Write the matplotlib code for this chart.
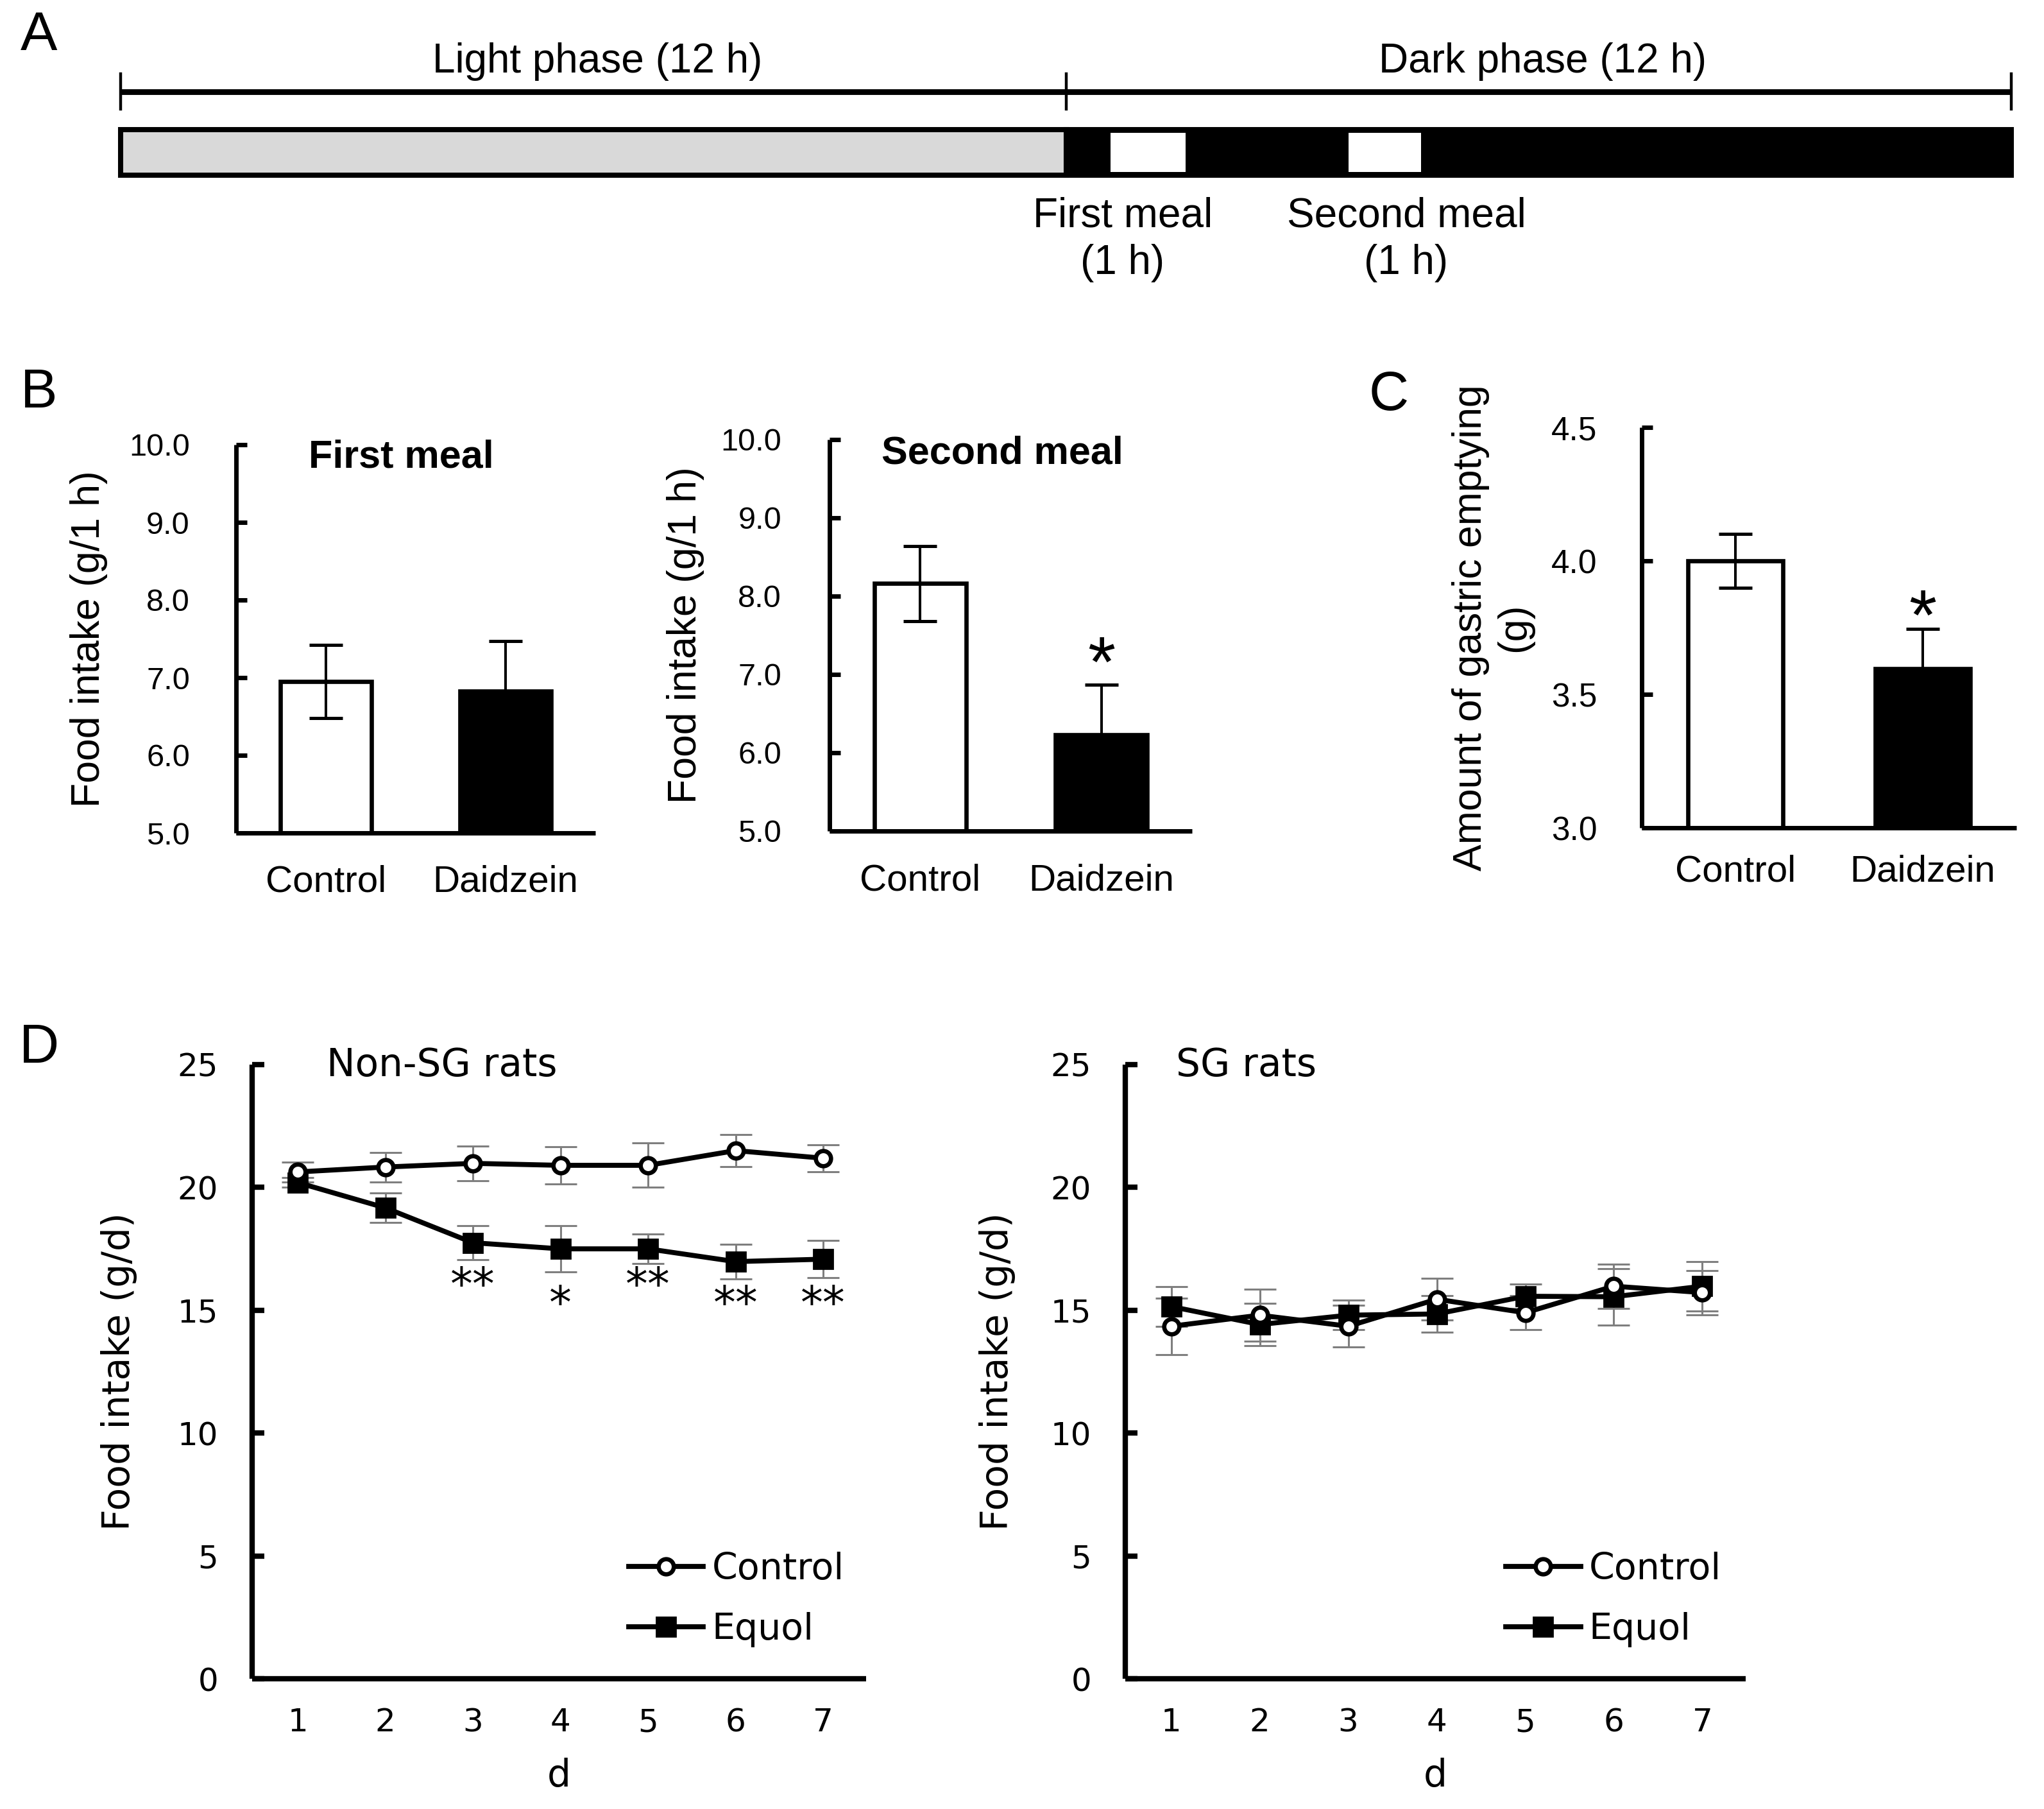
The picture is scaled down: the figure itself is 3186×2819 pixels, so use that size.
import matplotlib
matplotlib.use("Agg")
import matplotlib.pyplot as plt
from matplotlib.patches import Rectangle

# ---- panel A: light / dark schedule (hours) ----
phase_labels = ["Light phase (12 h)", "Dark phase (12 h)"]
phase_hours = [12, 12]
phase_colors = ["#d9d9d9", "black"]
meal_labels = ["First meal\n(1 h)", "Second meal\n(1 h)"]
meal_start = [12.57, 15.59]
meal_length = [0.95, 0.92]
meal_label_x = [12.72, 16.32]

# ---- panel B / C ----
groups = ["Control", "Daidzein"]
first_meal = [6.95, 6.83]
first_meal_err = [0.47, 0.64]
second_meal = [8.16, 6.23]
second_meal_err = [0.48, 0.64]
gastric = [4.00, 3.595]
gastric_err = [0.10, 0.15]

# ---- panel D ----
days = [1, 2, 3, 4, 5, 6, 7]
nonsg_ctrl = [20.63, 20.83, 20.98, 20.9, 20.9, 21.5, 21.19]
nonsg_ctrl_err = [0.4, 0.6, 0.7, 0.75, 0.9, 0.65, 0.55]
nonsg_equol = [20.2, 19.17, 17.75, 17.5, 17.5, 16.98, 17.08]
nonsg_equol_err = [0.2, 0.6, 0.7, 0.95, 0.6, 0.7, 0.75]
nonsg_star_days = [3, 4, 5, 6, 7]
nonsg_star_text = ["**", "*", "**", "**", "**"]
nonsg_star_y = [15.95, 15.2, 15.95, 15.2, 15.2]
sg_ctrl = [14.35, 14.8, 14.35, 15.45, 14.9, 15.98, 15.72]
sg_ctrl_err = [1.15, 1.05, 0.85, 0.85, 0.7, 0.9, 0.9]
sg_equol = [15.15, 14.42, 14.8, 14.85, 15.57, 15.55, 15.98]
sg_equol_err = [0.8, 0.85, 0.6, 0.75, 0.5, 1.15, 1.0]

plt.rcParams["font.family"] = ["Liberation Sans", "DejaVu Sans"]

W, H = 3186.0, 2819.0   # layout measured in output pixels
fig = plt.figure(figsize=(W / 200, H / 200), dpi=200)


def box(left, top, right, bottom):
    return [left / W, 1 - bottom / H, (right - left) / W, (bottom - top) / H]


# panel letters
for letter, x, y in [("A", 61, 56), ("B", 61, 613), ("C", 2165, 617), ("D", 61, 1634)]:
    fig.text(x / W, 1 - y / H, letter, fontsize=31, ha="center", va="center")

# ---------------- panel A ----------------
axa = fig.add_axes(box(188, 0, 3135, 480))
axa.set_xlim(0, sum(phase_hours))
axa.set_ylim(480, 0)
axa.axis("off")
total = sum(phase_hours)
axa.plot([0, total], [143, 143], color="black", lw=3.2, solid_capstyle="butt", clip_on=False)
edges = [0]
for h in phase_hours:
    edges.append(edges[-1] + h)
for e in edges:
    axa.plot([e, e], [115, 170], color="black", lw=1.6, clip_on=False)
start = 0
for lab, h, c in zip(phase_labels, phase_hours, phase_colors):
    axa.text(start + h / 2 + 0.05, 113, lab, fontsize=23, ha="center", va="baseline")
    axa.add_patch(Rectangle((start, 202), h, 71, facecolor=c, edgecolor="black",
                            lw=2.9, clip_on=False))
    start += h
for lab, s, l, tx in zip(meal_labels, meal_start, meal_length, meal_label_x):
    axa.add_patch(Rectangle((s, 207), l, 61, facecolor="white", edgecolor="none",
                            clip_on=False, zorder=3))
    axa.text(tx, 373, lab, fontsize=23, ha="center", va="center", linespacing=1.28)


# ---------------- panels B and C ----------------
def bar_panel(rect, values, errs, ylim, ticks, title, title_pos, ylabel, label_x,
              tick_size, tick_pad, xpad, star_off=None):
    ax = fig.add_axes(rect)
    x = list(range(len(values)))
    ax.bar(x, values, width=0.505, color=["white", "black"], edgecolor="black",
           linewidth=2.4, zorder=2)
    ax.errorbar(x, values, yerr=[[errs[0], 0], errs], fmt="none", ecolor="black",
                elinewidth=1.45, capsize=9.5, capthick=1.8, zorder=3)
    ax.set_ylim(*ylim)
    ax.set_xlim(-0.5, 1.5)
    ax.set_yticks(ticks)
    ax.set_yticklabels([f"{t:.1f}" for t in ticks])
    ax.set_xticks(x)
    ax.set_xticklabels(groups)
    ax.tick_params(axis="y", direction="in", length=6, width=2.5, labelsize=tick_size,
                   pad=tick_pad)
    ax.tick_params(axis="x", length=0, labelsize=21, pad=xpad)
    for s in ["top", "right"]:
        ax.spines[s].set_visible(False)
    for s in ["left", "bottom"]:
        ax.spines[s].set_linewidth(2.5)
        ax.spines[s].set_capstyle("butt")
    ax.set_ylabel(ylabel, fontsize=22.5, ha="center")
    ax.yaxis.set_label_coords(label_x, 0.5)
    if title:
        ax.text(title_pos[0], title_pos[1], title, transform=ax.transAxes, fontsize=22,
                fontweight="bold", ha="center", va="baseline")
    if star_off is not None:
        ax.annotate("*", (1, values[1] + errs[1]), xytext=(0, star_off),
                    textcoords="offset points", ha="center", va="baseline", fontsize=40)
    return ax


bar_panel(box(368, 693, 928, 1298), first_meal, first_meal_err, (5, 10),
          [5, 6, 7, 8, 9, 10], "First meal", (0.459, 0.942),
          "Food intake (g/1 h)", -0.357, 17.5, 26, 18)
bar_panel(box(1293, 685, 1858, 1295), second_meal, second_meal_err, (5, 10),
          [5, 6, 7, 8, 9, 10], "Second meal", (0.476, 0.938),
          "Food intake (g/1 h)", -0.345, 17.5, 27, 18, star_off=-1)
bar_panel(box(2559, 666, 3143, 1290), gastric, gastric_err, (3, 4.5),
          [3.0, 3.5, 4.0, 4.5], None, None,
          "Amount of gastric emptying\n(g)", -0.289, 18.5, 25, 15, star_off=-6)


# ---------------- panel D ----------------
def line_panel(rect, ctrl, ctrl_err, equol, equol_err, title, title_x, label_x,
               stars=None):
    ax = fig.add_axes(rect)
    ax.errorbar(days, ctrl, yerr=ctrl_err, fmt="none", ecolor="#7f7f7f",
                elinewidth=1.1, capsize=9, capthick=1.1, zorder=2)
    ax.errorbar(days, equol, yerr=equol_err, fmt="none", ecolor="#7f7f7f",
                elinewidth=1.1, capsize=9, capthick=1.1, zorder=2)
    ax.plot(days, ctrl, color="black", lw=2.8, marker="o", ms=8.5, mfc="white",
            mec="black", mew=2.4, label="Control", zorder=4)
    ax.plot(days, equol, color="black", lw=2.8, marker="s", ms=11, mfc="black",
            mec="black", mew=1, label="Equol", zorder=3)
    ax.set_xlim(0.48, 7.49)
    ax.set_ylim(0, 25)
    ax.set_yticks([0, 5, 10, 15, 20, 25])
    ax.set_xticks(days)
    ax.tick_params(axis="y", direction="in", length=7, width=3, labelsize=18, pad=19)
    ax.tick_params(axis="x", length=0, labelsize=18, pad=16)
    for lab in ax.get_xticklabels() + ax.get_yticklabels():
        lab.set_fontfamily("DejaVu Sans")
    for s in ["top", "right"]:
        ax.spines[s].set_visible(False)
    for s in ["left", "bottom"]:
        ax.spines[s].set_linewidth(3)
        ax.spines[s].set_capstyle("butt")
    ax.set_ylabel("Food intake (g/d)", fontsize=21, family="DejaVu Sans")
    ax.yaxis.set_label_coords(label_x, 0.5)
    ax.set_xlabel("d", fontsize=21, family="DejaVu Sans", labelpad=11)
    ax.text(title_x, 0.981, title, transform=ax.transAxes, fontsize=21.5,
            family="DejaVu Sans", ha="left", va="baseline")
    ax.legend(loc="center left", bbox_to_anchor=(0.613, 0.129), frameon=False,
              prop={"family": "DejaVu Sans", "size": 20.5}, handlelength=2.05,
              handletextpad=0.23, labelspacing=0.68, borderpad=0, borderaxespad=0)
    if stars is not None:
        for d, t, y in zip(*stars):
            ax.text(d, y, t, fontsize=25, family="DejaVu Sans", ha="center", va="center")
    return ax


line_panel(box(393, 1659, 1350, 2616), nonsg_ctrl, nonsg_ctrl_err, nonsg_equol,
           nonsg_equol_err, "Non-SG rats", 0.121, -0.187,
           stars=(nonsg_star_days, nonsg_star_text, nonsg_star_y))
line_panel(box(1754, 1659, 2721, 2616), sg_ctrl, sg_ctrl_err, sg_equol,
           sg_equol_err, "SG rats", 0.082, -0.177)

fig.savefig("out.png", dpi=200, facecolor="white")
